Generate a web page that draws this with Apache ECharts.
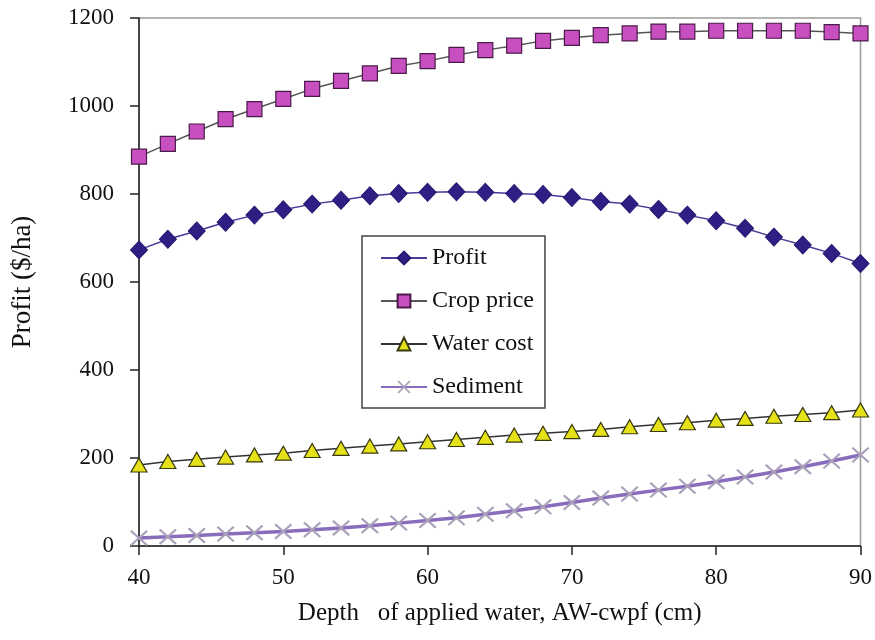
<!DOCTYPE html>
<html>
<head>
<meta charset="utf-8">
<script src="https://cdn.jsdelivr.net/npm/echarts@6/dist/echarts.min.js"></script>
<style>html,body{margin:0;padding:0;background:#fff}#c{width:875px;height:640px}</style>
</head>
<body>
<div id="c"></div>
<script>
var depth = [40,42,44,46,48,50,52,54,56,58,60,62,64,66,68,70,72,74,76,78,80,82,84,86,88,90];
var profit = [673,697,716,736,752,764,777,786,796,801,804,805,804,801,799,792,783,777,765,752,739,722,702,684,665,642];
var cropPrice = [885,914,942,970,993,1016,1039,1057,1074,1091,1102,1116,1127,1137,1148,1155,1161,1165,1169,1169,1171,1171,1171,1171,1168,1165];
var waterCost = [184,192,197,202,207,211,217,222,227,232,237,242,247,252,256,260,265,271,276,280,286,290,295,299,303,309];
var sediment = [18,21,24,27,30,33,37,41,46,52,58,64,72,80,89,99,109,118,127,136,146,157,168,180,193,207];
var seriesNames = ['Profit','Crop price','Water cost','Sediment'];
var xTicks = {min:40,max:90,interval:10};
var yTicks = {min:0,max:1200,interval:200};

function pairs(ys){ return depth.map(function(d,i){ return [d, ys[i]]; }); }
var serif = '"Liberation Serif","Times New Roman",serif';
var crossPath = 'path://M0,0.9 L0.9,0 L5,4.1 L9.1,0 L10,0.9 L5.9,5 L10,9.1 L9.1,10 L5,5.9 L0.9,10 L0,9.1 L4.1,5 Z';

var chart = echarts.init(document.getElementById('c'), null, {renderer:'canvas'});
chart.setOption({
  animation:false,
  backgroundColor:'#fff',
  grid:{left:139,right:13,top:18,bottom:94,show:true,borderColor:'#9a9a9a',borderWidth:1.5,backgroundColor:'transparent'},
  legend:{
    orient:'vertical', left:362, top:236,
    padding:[10,11,9,18],
    itemWidth:46, itemHeight:16, itemGap:19,
    borderColor:'#444', borderWidth:1.5, backgroundColor:'#fff',
    textStyle:{fontFamily:serif,fontSize:24,color:'#111',lineHeight:24,padding:[0,0,0,0]},
    data:seriesNames
  },
  xAxis:{
    type:'value', min:xTicks.min, max:xTicks.max, interval:xTicks.interval,
    name:'Depth   of applied water, AW-cwpf (cm)', nameLocation:'middle', nameGap:55,
    nameTextStyle:{fontFamily:serif,fontSize:25,color:'#111'},
    axisLine:{lineStyle:{color:'#222',width:1.5}},
    axisTick:{length:9,lineStyle:{color:'#222',width:1.5}},
    axisLabel:{fontFamily:serif,fontSize:23,color:'#111',margin:20},
    splitLine:{show:false}
  },
  yAxis:{
    type:'value', min:yTicks.min, max:yTicks.max, interval:yTicks.interval,
    name:'Profit ($/ha)', nameLocation:'middle', nameGap:103, nameRotate:90,
    nameTextStyle:{fontFamily:serif,fontSize:27,color:'#111'},
    axisLine:{show:true,lineStyle:{color:'#222',width:1.5}},
    axisTick:{show:true,length:9,lineStyle:{color:'#222',width:1.5}},
    axisLabel:{fontFamily:serif,fontSize:23,color:'#111',margin:25,formatter:function(v){return String(v);}},
    splitLine:{show:false}
  },
  series:[
    {name:'Profit',type:'line',data:pairs(profit),symbol:'diamond',symbolSize:[17,18],
     lineStyle:{color:'#4a3b98',width:1.5},
     itemStyle:{color:'#2f1f85',borderColor:'#241870',borderWidth:1}, z:4},
    {name:'Crop price',type:'line',data:pairs(cropPrice),symbol:'rect',symbolSize:15,
     lineStyle:{color:'#555',width:1.5},
     itemStyle:{color:'#c84fbf',borderColor:'#4a1a4a',borderWidth:1.2}, z:3},
    {name:'Water cost',type:'line',data:pairs(waterCost),symbol:'triangle',symbolSize:[16,14],
     lineStyle:{color:'#333',width:1.5},
     itemStyle:{color:'#e6e21a',borderColor:'#3a3a10',borderWidth:1.2}, z:3},
    {name:'Sediment',type:'line',data:pairs(sediment),symbol:crossPath,symbolSize:[18,16],
     lineStyle:{color:'#8a6cbc',width:3.5},
     itemStyle:{color:'#a9a1b9',borderWidth:0}, z:2}
  ]
});
</script>
</body>
</html>
